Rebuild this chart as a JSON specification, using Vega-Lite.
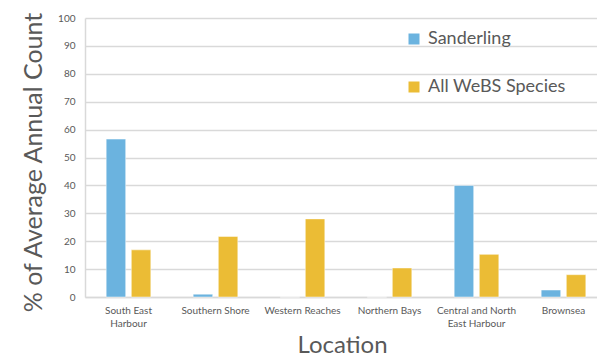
{
  "$schema": "https://vega.github.io/schema/vega-lite/v6.json",
  "width": 512,
  "height": 279,
  "autosize": {"type": "none"},
  "padding": {"left": 85, "top": 18, "right": 0, "bottom": 59},
  "background": "white",
  "config": {
    "view": {"stroke": null},
    "font": "Lato",
    "axis": {"labelFont": "Lato", "titleFont": "Lato", "labelColor": "#595959", "titleColor": "#595959", "titleFontWeight": "normal"}
  },
  "data": {
    "values": [
      {"location": "South East Harbour", "series": "Sanderling", "pct": 56.6},
      {"location": "South East Harbour", "series": "All WeBS Species", "pct": 16.9},
      {"location": "Southern Shore", "series": "Sanderling", "pct": 1.0},
      {"location": "Southern Shore", "series": "All WeBS Species", "pct": 21.7},
      {"location": "Western Reaches", "series": "Sanderling", "pct": 0},
      {"location": "Western Reaches", "series": "All WeBS Species", "pct": 28.0},
      {"location": "Northern Bays", "series": "Sanderling", "pct": 0},
      {"location": "Northern Bays", "series": "All WeBS Species", "pct": 10.4},
      {"location": "Central and North East Harbour", "series": "Sanderling", "pct": 40.0},
      {"location": "Central and North East Harbour", "series": "All WeBS Species", "pct": 15.3},
      {"location": "Brownsea", "series": "Sanderling", "pct": 2.5},
      {"location": "Brownsea", "series": "All WeBS Species", "pct": 8.0}
    ]
  },
  "mark": {"type": "bar", "stroke": "#ffffff", "strokeWidth": 0.8, "strokeOpacity": 0.6},
  "encoding": {
    "x": {
      "field": "location",
      "type": "nominal",
      "sort": null,
      "scale": {"range": [0, 522], "paddingInner": 0.487, "paddingOuter": 0.2435},
      "axis": {
        "title": "Location",
        "titleFontSize": 24,
        "titlePadding": 5,
        "titleX": 257,
        "labelAngle": 0,
        "labelFontSize": 10,
        "labelPadding": 8,
        "labelLineHeight": 13,
        "ticks": false,
        "domainColor": "#D9D9D9",
        "domainWidth": 1.5,
        "labelExpr": "datum.label == 'South East Harbour' ? ['South East', 'Harbour'] : datum.label == 'Central and North East Harbour' ? ['Central and North', 'East Harbour'] : datum.label"
      }
    },
    "xOffset": {
      "field": "series",
      "type": "nominal",
      "sort": ["Sanderling", "All WeBS Species"],
      "scale": {"paddingInner": 0.223, "paddingOuter": 0}
    },
    "y": {
      "field": "pct",
      "type": "quantitative",
      "scale": {"domain": [0, 100], "nice": false},
      "axis": {
        "title": "% of Average Annual Count",
        "titleFontSize": 25,
        "titlePadding": 11,
        "titleY": 144,
        "values": [0, 10, 20, 30, 40, 50, 60, 70, 80, 90, 100],
        "labelFontSize": 10,
        "labelPadding": 10,
        "ticks": false,
        "domain": true,
        "domainColor": "#D9D9D9",
        "domainWidth": 1.5,
        "gridColor": "#D9D9D9",
        "gridWidth": 1.5
      }
    },
    "color": {
      "field": "series",
      "type": "nominal",
      "sort": ["Sanderling", "All WeBS Species"],
      "scale": {"domain": ["Sanderling", "All WeBS Species"], "range": ["#6BB3DF", "#EBBC35"]},
      "legend": {
        "title": null,
        "orient": "none",
        "legendX": 320,
        "legendY": 12,
        "symbolType": "square",
        "symbolSize": 121,
        "symbolStrokeWidth": 0,
        "labelFontSize": 18,
        "labelColor": "#595959",
        "labelFont": "Lato",
        "labelOffset": 5,
        "rowPadding": 30,
        "labelLimit": 300
      }
    }
  }
}
